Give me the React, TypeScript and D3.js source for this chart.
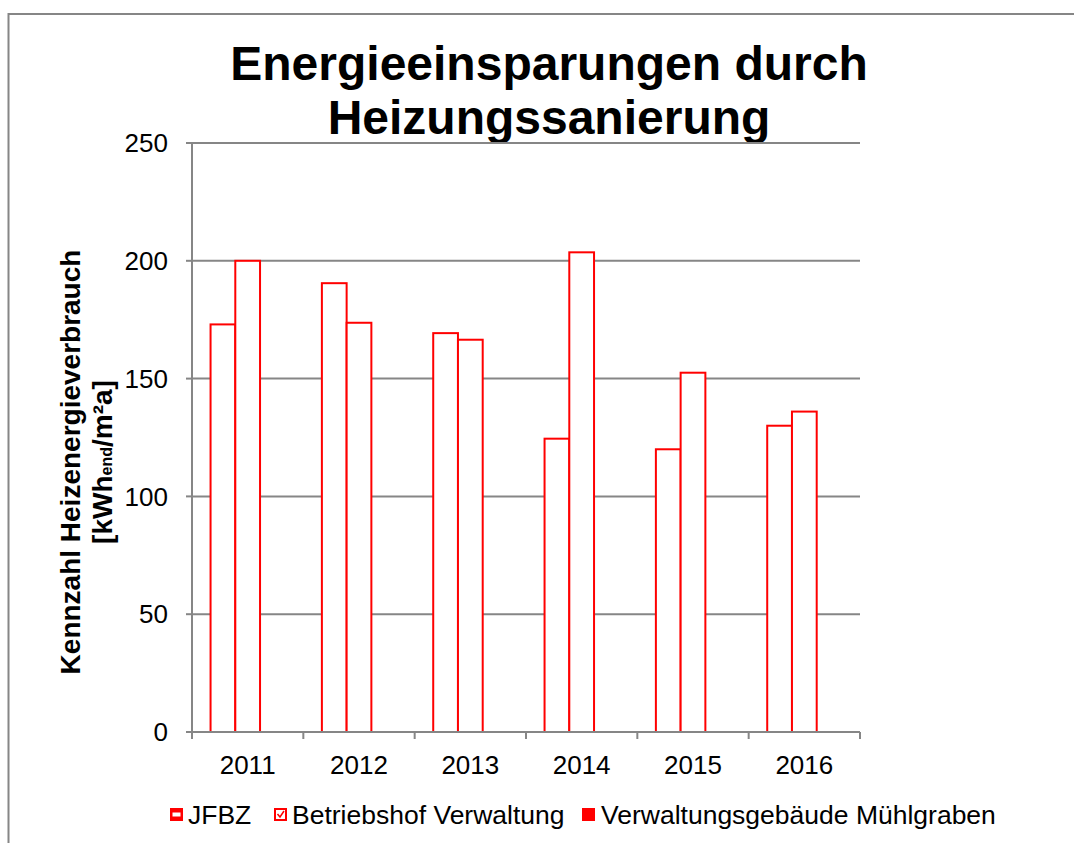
import React from 'react';
import * as d3 from 'd3';

const years = ['2011', '2012', '2013', '2014', '2015', '2016'];
const seriesNames = ['JFBZ', 'Betriebshof Verwaltung', 'Verwaltungsgebäude Mühlgraben'];
const jfbz = [173, 190.5, 169.3, 124.5, 120, 130];
const betriebshof = [200, 173.7, 166.5, 203.6, 152.5, 136];
const muehlgraben: (number | null)[] = [null, null, null, null, null, null];
const yTicks = [0, 50, 100, 150, 200, 250];

const seriesValues = [jfbz, betriebshof, muehlgraben];

export default function App() {
  const width = 1074, height = 843;
  const plot = {left: 192, right: 860, top: 143, bottom: 732};
  const font = 'Liberation Sans, Arial, sans-serif';
  const red = '#ff0000';
  const grid = '#868686';

  const x = d3.scaleBand().domain(years).range([plot.left, plot.right]).padding(0);
  const xs = d3.scaleBand().domain(seriesNames).range([0, x.bandwidth()])
    .paddingInner(0).paddingOuter(0.75);
  const y = d3.scaleLinear().domain([0, 250]).range([plot.bottom, plot.top]);

  const boundaries = years.map(d => x(d) as number).concat([plot.right]);

  return (
    <svg width={width} height={height} style={{position: 'absolute', left: 0, top: 0, background: '#fff'}}
      fontFamily={font}>
      {/* chart area border, right and bottom fall outside the picture */}
      <rect x={8.5} y={14} width={1200} height={1000} fill="#fff" stroke={grid} strokeWidth={2} />

      <text x={549} y={80} textAnchor="middle" fontSize={48} fontWeight="bold">Energieeinsparungen durch</text>
      <text x={549} y={134} textAnchor="middle" fontSize={48} fontWeight="bold">Heizungssanierung</text>

      {yTicks.filter(t => t > 0).map(t => (
        <line key={'g' + t} x1={plot.left} x2={plot.right} y1={y(t)} y2={y(t)} stroke={grid} strokeWidth={2} />
      ))}

      {seriesValues.map((vals, si) => vals.map((v, i) => v == null ? null : (
        <rect key={si + '-' + i}
          x={(x(years[i]) as number) + (xs(seriesNames[si]) as number)}
          y={y(v)}
          width={xs.bandwidth()}
          height={y(0) - y(v)}
          fill="#fff" stroke={red} strokeWidth={2} />
      )))}

      {/* axes */}
      <line x1={plot.left} x2={plot.left} y1={plot.top} y2={plot.bottom} stroke={grid} strokeWidth={2} />
      <line x1={plot.left - 6} x2={plot.right} y1={plot.bottom} y2={plot.bottom} stroke={grid} strokeWidth={2} />
      {yTicks.map(t => (
        <g key={'y' + t}>
          <line x1={plot.left - 6} x2={plot.left} y1={y(t)} y2={y(t)} stroke={grid} strokeWidth={2} />
          <text x={plot.left - 24} y={y(t)} dy="0.35em" textAnchor="end" fontSize={26}>{t}</text>
        </g>
      ))}
      {boundaries.map((b, i) => (
        <line key={'xt' + i} x1={b} x2={b} y1={plot.bottom} y2={plot.bottom + 7} stroke={grid} strokeWidth={2} />
      ))}
      {years.map(yr => (
        <text key={yr} x={(x(yr) as number) + x.bandwidth() / 2} y={774} textAnchor="middle" fontSize={26}>{yr}</text>
      ))}

      <g transform="translate(0,462) rotate(-90)" fontWeight="bold" fontSize={28} textAnchor="middle">
        <text x={0} y={80}>Kennzahl Heizenergieverbrauch</text>
        <text x={0} y={112}>[kWh<tspan fontSize={16}>end</tspan>/m²a]</text>
      </g>

      {/* legend */}
      <g fontSize={26.5}>
        <rect x={170} y={808} width={13} height={13} fill={red} />
        <rect x={172.5} y={812.5} width={8} height={4} fill="#fff" />
        <text x={188} y={824}>{seriesNames[0]}</text>

        <rect x={275} y={809} width={11} height={11} fill="#fff" stroke={red} strokeWidth={2} />
        <path d="M277.5,814 L280,817 L284,811" fill="none" stroke={red} strokeWidth={1.5} />
        <text x={292} y={824}>{seriesNames[1]}</text>

        <rect x={582} y={808} width={13} height={13} fill={red} />
        <text x={601} y={824}>{seriesNames[2]}</text>
      </g>
    </svg>
  );
}
